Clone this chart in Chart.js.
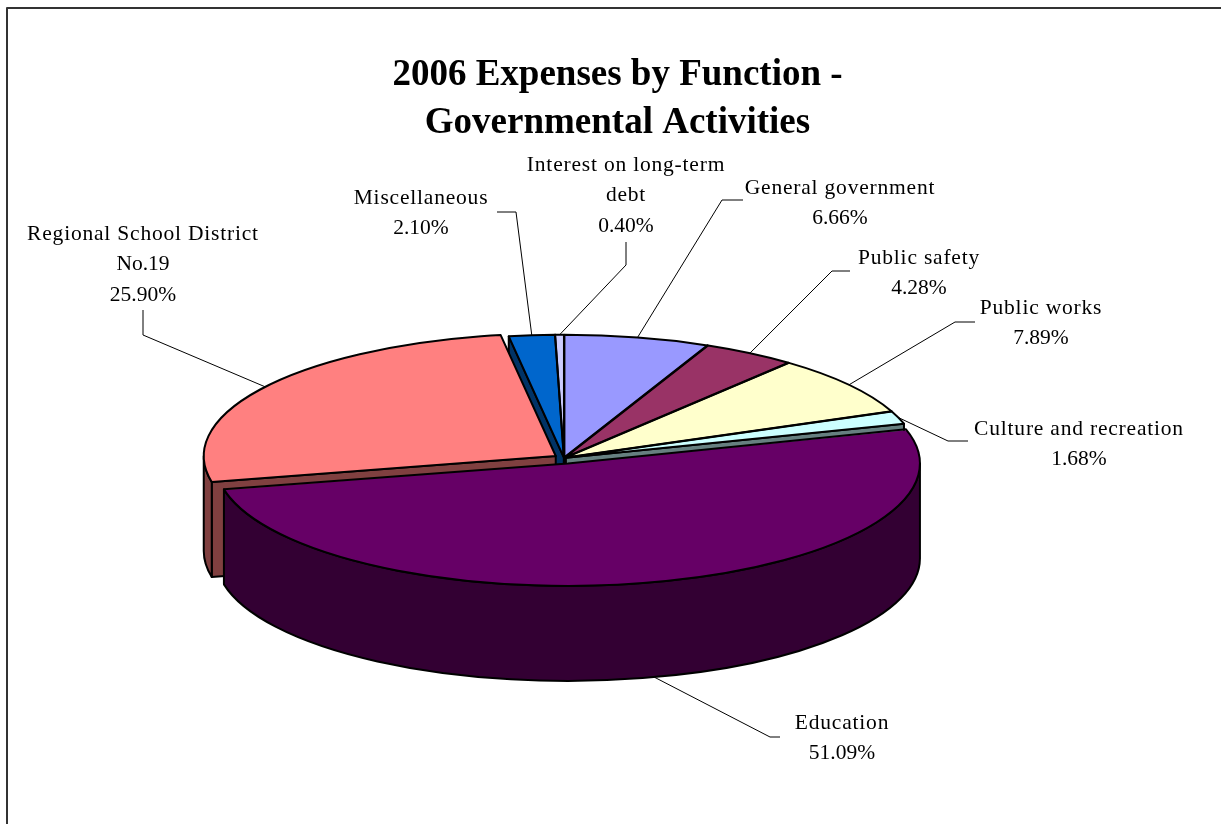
<!DOCTYPE html>
<html>
<head>
<meta charset="utf-8">
<title>2006 Expenses by Function</title>
<script src="https://cdn.jsdelivr.net/npm/chart.js@4/dist/chart.umd.min.js"></script>
<style>
  html, body { margin: 0; padding: 0; background: #fff; overflow: hidden; }
  canvas { display: block; }
</style>
</head>
<body>
<canvas id="expenses-chart" width="1221" height="824"></canvas>
<script>
const categories = ['General government', 'Public safety', 'Public works', 'Culture and recreation', 'Education', 'Regional School District No.19', 'Miscellaneous', 'Interest on long-term debt'];
const percentages = [6.66, 4.28, 7.89, 1.68, 51.09, 25.90, 2.10, 0.40];
const topColors = ['#9999FF', '#993366', '#FFFFCC', '#CCFFFF', '#660066', '#FF8080', '#0066CC', '#CCCCFF'];
const wallColors = ['#4D4D80', '#4D1A33', '#808066', '#668080', '#330033', '#804040', '#003366', '#666680'];
const explode = [8, 8, 8, 8, 64, 40, 8, 8];

// label text per slice: lines, centre x, first line y, then the elbow points of the leader
const labelLines = [['General government', '6.66%'], ['Public safety', '4.28%'], ['Public works', '7.89%'], ['Culture and recreation', '1.68%'], ['Education', '51.09%'], ['Regional School District', 'No.19', '25.90%'], ['Miscellaneous', '2.10%'], ['Interest on long-term', 'debt', '0.40%']];
const labelX = [840, 919, 1041, 1079, 842, 143, 421, 626];
const labelY = [188, 258, 308, 429, 723, 234, 198, 165];
const leaderElbows = [
  [[743, 200], [722, 200]],
  [[850, 271], [832, 271]],
  [[975, 322], [955, 322]],
  [[968, 441], [948, 441]],
  [[780, 737], [770, 737]],
  [[143, 310], [143, 335]],
  [[497, 212], [516, 212]],
  [[626, 242], [626, 265]]
];

const pieX = 564;      // where the pie centre lands on the page
const pieY = 458;
const pieRadius = 352;
const squash = 0.348;  // vertical flattening of the disc
const depth = 95;

// position of one slice after its explode offset, in page pixels
function sliceGeom(arc, i) {
  const mid = (arc.startAngle + arc.endAngle) / 2;
  const off = explode[i] / 4;
  return {
    cx: pieX + Math.cos(mid) * off,
    cy: pieY + Math.sin(mid) * off * squash,
    r: pieRadius,
    a0: arc.startAngle,
    a1: arc.endAngle,
    mid: mid
  };
}

function edgePoint(g, a, dy) {
  return [g.cx + Math.cos(a) * g.r, g.cy + Math.sin(a) * g.r * squash + (dy || 0)];
}

function drawCutFace(ctx, g, a) {
  const p = edgePoint(g, a);
  ctx.beginPath();
  ctx.moveTo(g.cx, g.cy);
  ctx.lineTo(p[0], p[1]);
  ctx.lineTo(p[0], p[1] + depth);
  ctx.lineTo(g.cx, g.cy + depth);
  ctx.closePath();
  ctx.fill();
  ctx.stroke();
}

function drawWalls(ctx, g, color) {
  ctx.fillStyle = color;
  ctx.strokeStyle = '#000';
  ctx.lineWidth = 2;
  ctx.lineJoin = 'round';
  // a cut face only shows when it turns towards the viewer
  if (Math.cos(g.a0) < 0) drawCutFace(ctx, g, g.a0);
  if (Math.cos(g.a1) > 0) drawCutFace(ctx, g, g.a1);
  // outer rim, only the part that faces the viewer
  const ranges = [[0, Math.PI], [2 * Math.PI, 3 * Math.PI]];
  ranges.forEach(function (range) {
    const from = Math.max(g.a0, range[0]);
    const to = Math.min(g.a1, range[1]);
    if (to <= from) return;
    ctx.beginPath();
    ctx.ellipse(g.cx, g.cy, g.r, g.r * squash, 0, from, to);
    ctx.ellipse(g.cx, g.cy + depth, g.r, g.r * squash, 0, to, from, true);
    ctx.closePath();
    ctx.fill();
    ctx.stroke();
  });
}

const pie3d = {
  id: 'pie3d',
  afterDatasetsUpdate(chart) {
    // arc.draw grows a slice by its offset, keep all slices on one radius
    const meta = chart.getDatasetMeta(0);
    meta.data.forEach(function (arc, i) {
      const fix = 1 - Math.sin(Math.min(Math.PI, arc.circumference));
      arc.outerRadius = pieRadius - explode[i] / 4 * fix;
    });
  },
  beforeDatasetsDraw(chart) {
    const ctx = chart.ctx;
    const meta = chart.getDatasetMeta(0);
    const order = meta.data.map(function (arc, i) { return i; });
    order.sort(function (a, b) {
      const ga = meta.data[a], gb = meta.data[b];
      return Math.sin((ga.startAngle + ga.endAngle) / 2) - Math.sin((gb.startAngle + gb.endAngle) / 2);
    });
    order.forEach(function (i) {
      drawWalls(ctx, sliceGeom(meta.data[i], i), wallColors[i]);
    });
    ctx.save();
    ctx.translate(pieX, pieY);
    ctx.scale(1, squash);
    ctx.translate(-meta.data[0].x, -meta.data[0].y);
  },
  afterDatasetsDraw(chart) {
    const ctx = chart.ctx;
    const meta = chart.getDatasetMeta(0);
    ctx.restore();
    // outlines drawn unscaled so they stay an even width
    ctx.strokeStyle = '#000';
    ctx.lineWidth = 2;
    ctx.lineJoin = 'round';
    meta.data.forEach(function (arc, i) {
      const g = sliceGeom(arc, i);
      ctx.beginPath();
      ctx.moveTo(g.cx, g.cy);
      ctx.ellipse(g.cx, g.cy, g.r, g.r * squash, 0, g.a0, g.a1);
      ctx.closePath();
      ctx.stroke();
    });
    drawLabels(ctx, meta);
    // chart frame, the right and bottom sides fall outside the picture
    ctx.strokeStyle = '#333';
    ctx.lineWidth = 2;
    ctx.beginPath();
    ctx.moveTo(7, 824);
    ctx.lineTo(7, 8);
    ctx.lineTo(1221, 8);
    ctx.stroke();
  }
};

function drawLabels(ctx, meta) {
  ctx.font = '21.5px "Liberation Serif"';
  ctx.fillStyle = '#000';
  ctx.textAlign = 'center';
  ctx.textBaseline = 'middle';
  categories.forEach(function (name, i) {
    labelLines[i].forEach(function (line, n) {
      // words run wider than the numbers in the original
      ctx.letterSpacing = /\d/.test(line) ? '0px' : '0.8px';
      ctx.fillText(line, labelX[i], labelY[i] + n * 30.5);
    });
    const g = sliceGeom(meta.data[i], i);
    // slices at the front take the leader from the bottom of the rim
    const start = edgePoint(g, g.mid, Math.sin(g.mid) > 0.6 ? depth : 0);
    ctx.strokeStyle = '#000';
    ctx.lineWidth = 1;
    ctx.beginPath();
    leaderElbows[i].forEach(function (p, n) {
      if (n === 0) ctx.moveTo(p[0], p[1]); else ctx.lineTo(p[0], p[1]);
    });
    ctx.lineTo(start[0], start[1]);
    ctx.stroke();
  });
  ctx.letterSpacing = '0px';
}

new Chart(document.getElementById('expenses-chart'), {
  type: 'pie',
  data: {
    labels: categories,
    datasets: [{
      data: percentages,
      backgroundColor: topColors,
      borderWidth: 0,
      offset: explode,
      clip: false
    }]
  },
  options: {
    responsive: false,
    animation: false,
    radius: pieRadius,
    layout: { padding: { left: 14 } },
    plugins: {
      legend: { display: false },
      tooltip: { enabled: false },
      title: {
        display: true,
        text: ['2006 Expenses by Function -', 'Governmental Activities'],
        color: '#000',
        font: { family: '"Liberation Serif"', size: 37, weight: 'bold', lineHeight: 1.28 },
        padding: { top: 52, bottom: 10 }
      }
    }
  },
  plugins: [pie3d]
});
</script>
</body>
</html>
